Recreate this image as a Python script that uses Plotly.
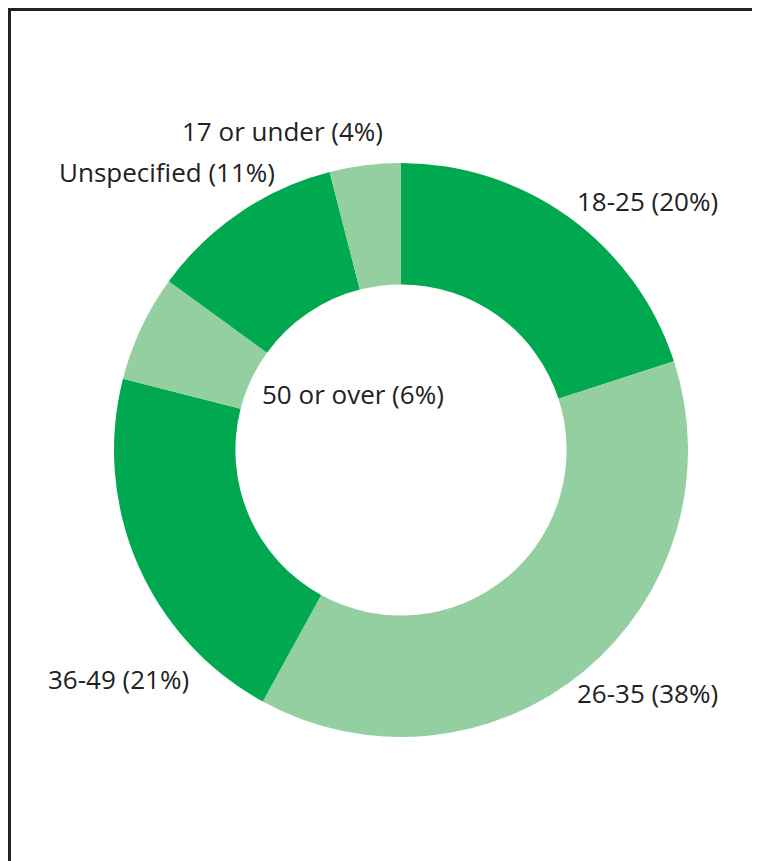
import plotly.graph_objects as go

categories = ["18-25", "26-35", "36-49", "50 or over", "Unspecified", "17 or under"]
values = [20, 38, 21, 6, 11, 4]

OFF = 8  # page body margin
W, H = 760 - OFF, 861 - OFF
dark = "#00a94f"
light = "#93cfa0"
colors = [dark, light, dark, light, dark, light]

# label placement (page-pixel positions of left edge / vertical centre)
label_pos = {
    "18-25": (575, 201),
    "26-35": (575, 693),
    "36-49": (46, 679),
    "50 or over": (260, 394),
    "Unspecified": (57, 172),
    "17 or under": (180, 131),
}

cx, cy, r = 401 - OFF, 450 - OFF, 287

fig = go.Figure(go.Pie(
    labels=categories,
    values=values,
    sort=False,
    direction="clockwise",
    rotation=0,
    hole=0.577,
    marker=dict(colors=colors, line=dict(width=0)),
    textinfo="none",
    hoverinfo="label+percent",
    domain=dict(x=[(cx - r) / W, (cx + r) / W], y=[1 - (cy + r) / H, 1 - (cy - r) / H]),
    showlegend=False,
))

annotations = []
for cat, v in zip(categories, values):
    px, py = label_pos[cat]
    annotations.append(dict(
        text=f"{cat} ({v}%)",
        x=(px - OFF) / W, y=1 - (py - OFF) / H, xref="paper", yref="paper",
        xanchor="left", yanchor="middle", showarrow=False,
        font=dict(family="Open Sans", size=26, color="#222222"),
    ))

frame = dict(color="#222222", width=3)
fig.update_layout(
    width=W, height=H,
    margin=dict(l=0, r=0, t=0, b=0),
    paper_bgcolor="white",
    plot_bgcolor="white",
    annotations=annotations,
    shapes=[
        dict(type="line", xref="paper", yref="paper",
             x0=1.5 / W, x1=1.0, y0=1 - 1.5 / H, y1=1 - 1.5 / H, line=frame),
        dict(type="line", xref="paper", yref="paper",
             x0=1.5 / W, x1=1.5 / W, y0=0.0, y1=1 - 0.0 / H, line=frame),
    ],
)

fig.write_html("out.html")
